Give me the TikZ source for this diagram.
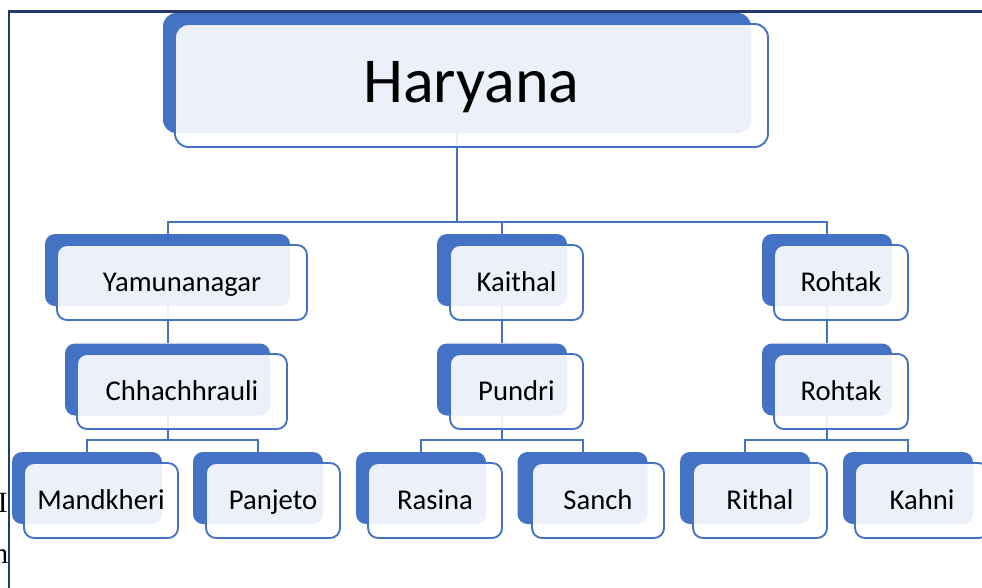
\documentclass[tikz,border=0pt]{standalone}
\usepackage{fontspec}
\setmainfont{Carlito}
\newfontfamily\fragserif{Liberation Serif}
\usetikzlibrary{calc}
\definecolor{sablue}{HTML}{4472C4}
\definecolor{frameblue}{HTML}{22396A}
\pgfdeclarelayer{bg}
\pgfsetlayers{bg,main}
\begin{document}
\begin{tikzpicture}[x=0.75pt,y=-0.75pt,
  backbox/.style={fill=sablue, draw=none, rounded corners=7.5pt, inner sep=0pt, minimum height=54pt},
  frontbox/.style={draw=sablue, line width=1.4pt, fill=white, fill opacity=0.9, text opacity=1,
    rounded corners=7.5pt, inner sep=0pt, minimum height=56.25pt, text=black,
    font=\fontsize{21.5}{24}\selectfont, text height=13.5pt, text depth=0pt},
  link/.style={draw=sablue, line width=1.5pt},
  frag/.style={anchor=base east, inner sep=0pt, text=black, font=\fragserif\fontsize{22}{24}\selectfont},
]
\useasboundingbox (0,0) rectangle (982,587);
\draw[frameblue, line width=2.2pt] (9,600) -- (9,11.5) -- (1000,11.5);

% fragments of text at the left edge
\node[frag] (fragI) at (8,512) {I};
\node[frag] (fragN) at (8.5,563) {n};

% back boxes
\node[backbox, rounded corners=10pt, minimum width=441pt, minimum height=90pt] (harb) at (457,73) {};
\node[backbox, minimum width=183.75pt] (yamb) at (167.5,270) {};
\node[backbox, minimum width=97.5pt] (kaib) at (502,270) {};
\node[backbox, minimum width=97.5pt] (rohb) at (827,270) {};
\node[backbox, minimum width=153.75pt] (chhb) at (167.5,379.5) {};
\node[backbox, minimum width=97.5pt] (punb) at (502,379.5) {};
\node[backbox, minimum width=97.5pt] (roh2b) at (827,379.5) {};
\node[backbox, minimum width=112.5pt] (manb) at (87,488) {};
\node[backbox, minimum width=97.5pt] (panb) at (258,488) {};
\node[backbox, minimum width=97.5pt] (rasb) at (421,488) {};
\node[backbox, minimum width=97.5pt] (sanb) at (582.5,488) {};
\node[backbox, minimum width=97.5pt] (ritb) at (745,488) {};
\node[backbox, minimum width=97.5pt] (kahb) at (908,488) {};

% front boxes
\node[frontbox, rounded corners=10pt, minimum width=444.75pt, minimum height=92.25pt,
  font=\fontsize{48}{52}\selectfont, text height=30.2pt, text depth=4.8pt] (har) at (471.5,85.5) {Haryana};
\node[frontbox, minimum width=187.5pt] (yam) at (182,282.5) {Yamunanagar};
\node[frontbox, minimum width=99.75pt] (kai) at (516.5,282.5) {Kaithal};
\node[frontbox, minimum width=100.5pt] (roh) at (841,282.5) {Rohtak};
\node[frontbox, minimum width=157.5pt] (chh) at (182,391.5) {Chhachhrauli};
\node[frontbox, minimum width=99.75pt] (pun) at (516.5,391.5) {Pundri};
\node[frontbox, minimum width=100.5pt] (roh2) at (841,391.5) {Rohtak};
\node[frontbox, minimum width=115.5pt] (man) at (101,500.5) {Mandkheri};
\node[frontbox, minimum width=100.5pt] (pan) at (273,500.5) {Panjeto};
\node[frontbox, minimum width=100.5pt] (ras) at (435,500.5) {Rasina};
\node[frontbox, minimum width=99pt] (san) at (598,500.5) {Sanch};
\node[frontbox, minimum width=100.5pt] (rit) at (760,500.5) {Rithal};
\node[frontbox, minimum width=100.5pt] (kah) at (922,500.5) {Kahni};

% connectors
\begin{pgfonlayer}{bg}
\coordinate (bus1) at (457,222);
\coordinate (bus2) at (0,440);
\draw[link] (harb.south) -- (bus1);
\draw[link] (yamb.north) -- (yamb.north |- bus1) -- (rohb.north |- bus1) -- (rohb.north);
\draw[link] (kaib.north) -- (kaib.north |- bus1);
\draw[link] (yamb.south) -- (chhb.north);
\draw[link] (kaib.south) -- (punb.north);
\draw[link] (rohb.south) -- (roh2b.north);
\draw[link] (chhb.south) -- (chhb.south |- bus2);
\draw[link] (manb.north) -- (manb.north |- bus2) -- (panb.north |- bus2) -- (panb.north);
\draw[link] (punb.south) -- (punb.south |- bus2);
\draw[link] (rasb.north) -- (rasb.north |- bus2) -- (sanb.north |- bus2) -- (sanb.north);
\draw[link] (roh2b.south) -- (roh2b.south |- bus2);
\draw[link] (ritb.north) -- (ritb.north |- bus2) -- (kahb.north |- bus2) -- (kahb.north);
\end{pgfonlayer}
\end{tikzpicture}
\end{document}
